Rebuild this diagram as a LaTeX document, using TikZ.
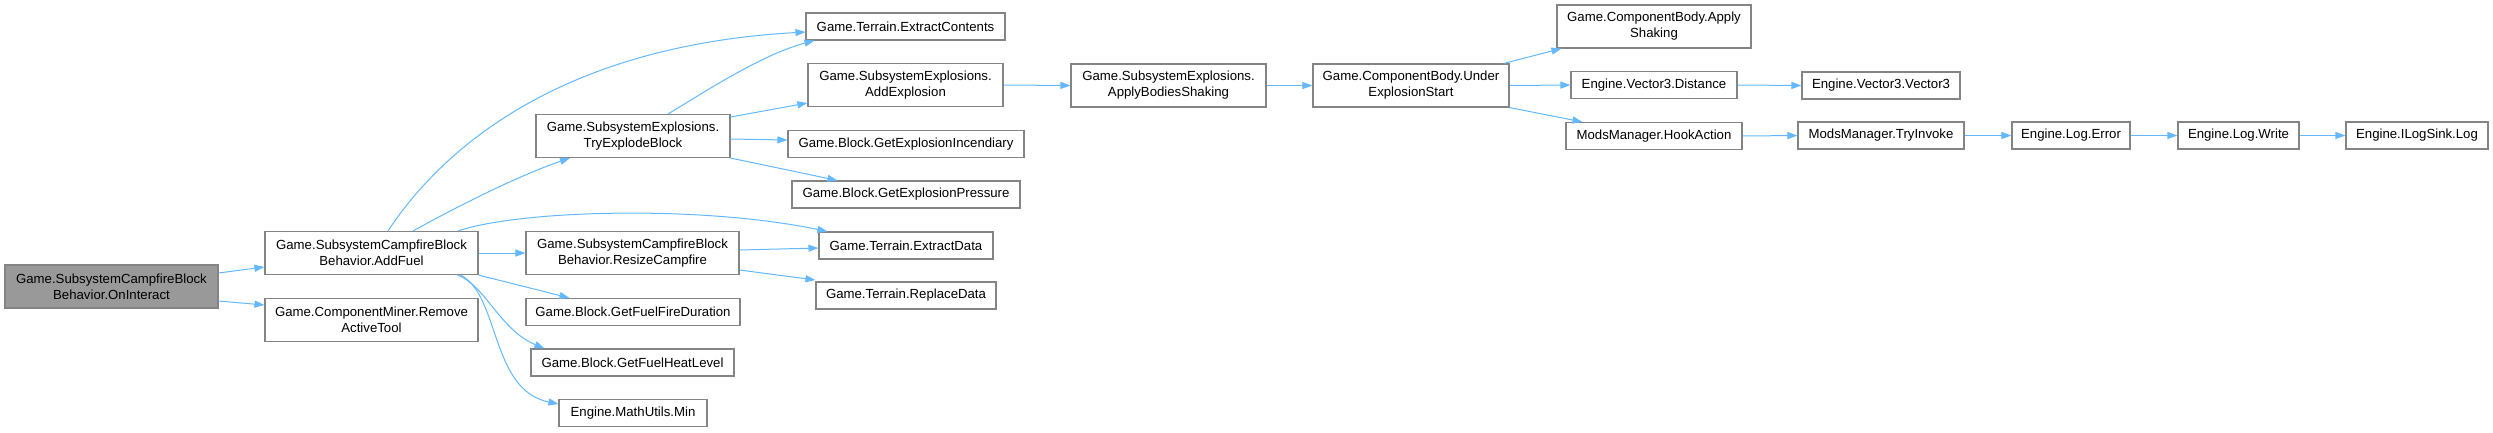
\documentclass[tikz,border=0pt]{standalone}
\usepackage{fontspec}
\setmainfont{Liberation Sans}
\usetikzlibrary{arrows.meta}
\definecolor{edgec}{HTML}{63B8FF}
\definecolor{bordc}{HTML}{848484}
\definecolor{rootc}{HTML}{999999}
\begin{document}
\begin{tikzpicture}[x=1pt,y=-1pt,
  box/.style={draw=bordc, line width=1.1pt, fill=white, inner sep=0pt, align=center,
    font=\fontsize{13.2}{16}\selectfont, text=black, minimum height=27pt},
  tall/.style={box, minimum height=43pt},
  root/.style={tall, fill=rootc},
  edge/.style={draw=edgec, line width=1pt, -{Triangle[length=10pt,width=7pt]}}]
\useasboundingbox (0,0) rectangle (2493,432);
% nodes
\node[root, minimum width=213pt] (oni) at (111.5,286.5) {Game.SubsystemCampfireBlock\\Behavior.OnInteract};
\node[tall, minimum width=213pt] (addfuel) at (371.5,253) {Game.SubsystemCampfireBlock\\Behavior.AddFuel};
\node[tall, minimum width=213pt] (remove) at (371.5,320) {Game.ComponentMiner.Remove\\ActiveTool};
\node[box, minimum width=199pt] (extc) at (905.5,26.5) {Game.Terrain.ExtractContents};
\node[tall, minimum width=194pt] (tryexp) at (633,136) {Game.SubsystemExplosions.\\TryExplodeBlock};
\node[tall, minimum width=195pt] (addexp) at (905.5,85) {Game.SubsystemExplosions.\\AddExplosion};
\node[box, minimum width=236pt] (incend) at (906,144) {Game.Block.GetExplosionIncendiary};
\node[box, minimum width=228pt] (press) at (906,194.5) {Game.Block.GetExplosionPressure};
\node[tall, minimum width=213pt] (resize) at (632.5,253) {Game.SubsystemCampfireBlock\\Behavior.ResizeCampfire};
\node[box, minimum width=174pt] (extd) at (906,245.5) {Game.Terrain.ExtractData};
\node[box, minimum width=180pt] (repl) at (906,295.5) {Game.Terrain.ReplaceData};
\node[box, minimum width=214pt] (fire) at (633,312) {Game.Block.GetFuelFireDuration};
\node[box, minimum width=203pt] (heat) at (632.5,362.5) {Game.Block.GetFuelHeatLevel};
\node[box, minimum width=148pt] (min) at (633,413) {Engine.MathUtils.Min};
\node[tall, minimum width=195pt] (abs) at (1168.5,85.5) {Game.SubsystemExplosions.\\ApplyBodiesShaking};
\node[tall, minimum width=196pt] (under) at (1411,85.5) {Game.ComponentBody.Under\\ExplosionStart};
\node[tall, minimum width=194pt] (applysh) at (1654,26.5) {Game.ComponentBody.Apply\\Shaking};
\node[box, minimum width=166pt] (dist) at (1654,85) {Engine.Vector3.Distance};
\node[box, minimum width=176pt] (hook) at (1654,136) {ModsManager.HookAction};
\node[box, minimum width=158pt] (v3) at (1881,85.5) {Engine.Vector3.Vector3};
\node[box, minimum width=166pt] (tryinv) at (1881,135.5) {ModsManager.TryInvoke};
\node[box, minimum width=118pt] (logerr) at (2071,135.5) {Engine.Log.Error};
\node[box, minimum width=121pt] (logwrite) at (2238.5,135.5) {Engine.Log.Write};
\node[box, minimum width=142pt] (ilog) at (2417,135.5) {Engine.ILogSink.Log};
% edges
\draw[edge] ([yshift=13.5pt]oni.east) -- ([yshift=-14pt]addfuel.west);
\draw[edge] ([yshift=-14.5pt]oni.east) -- ([yshift=15pt]remove.west);
\draw[edge] ([xshift=16.5pt]addfuel.north) .. controls (440,152) and (556,46) .. ([yshift=-5.5pt]extc.west);
\draw[edge] ([xshift=41.5pt]addfuel.north) .. controls (460,205) and (520,175) .. ([xshift=-63pt]tryexp.south);
\draw[edge] ([xshift=86.5pt]addfuel.north) .. controls (520,210) and (700,205) .. ([xshift=9pt]extd.north west);
\draw[edge] (addfuel.east) -- (resize.west);
\draw[edge] (addfuel.south east) -- ([xshift=44pt]fire.north west);
\draw[edge] ([xshift=-21pt]addfuel.south east) .. controls (485,285) and (500,330) .. ([xshift=14pt]heat.north west);
\draw[edge] ([xshift=-18pt]addfuel.south east) .. controls (500,295) and (490,390) .. ([yshift=9pt]min.west);
\draw[edge] ([xshift=35pt]tryexp.north) .. controls (700,95) and (760,55) .. ([xshift=9pt]extc.south west);
\draw[edge] ([yshift=19pt]tryexp.east) -- ([yshift=-18pt]addexp.west);
\draw[edge] ([yshift=-3pt]tryexp.east) -- ([yshift=4pt]incend.west);
\draw[edge] (tryexp.south east) -- ([xshift=46pt]press.north west);
\draw[edge] ([yshift=3pt]resize.east) -- ([yshift=-2.5pt]extd.west);
\draw[edge] ([yshift=-17pt]resize.east) -- ([yshift=15.5pt]repl.west);
\draw[edge] (addexp.east) -- (abs.west);
\draw[edge] (abs.east) -- (under.west);
\draw[edge] ([xshift=-6pt]under.north east) -- ([xshift=5pt]applysh.south west);
\draw[edge] (under.east) -- (dist.west);
\draw[edge] (under.south east) -- ([xshift=17pt]hook.north west);
\draw[edge] (dist.east) -- (v3.west);
\draw[edge] (hook.east) -- (tryinv.west);
\draw[edge] (tryinv.east) -- (logerr.west);
\draw[edge] (logerr.east) -- (logwrite.west);
\draw[edge] (logwrite.east) -- (ilog.west);
\end{tikzpicture}
\end{document}
